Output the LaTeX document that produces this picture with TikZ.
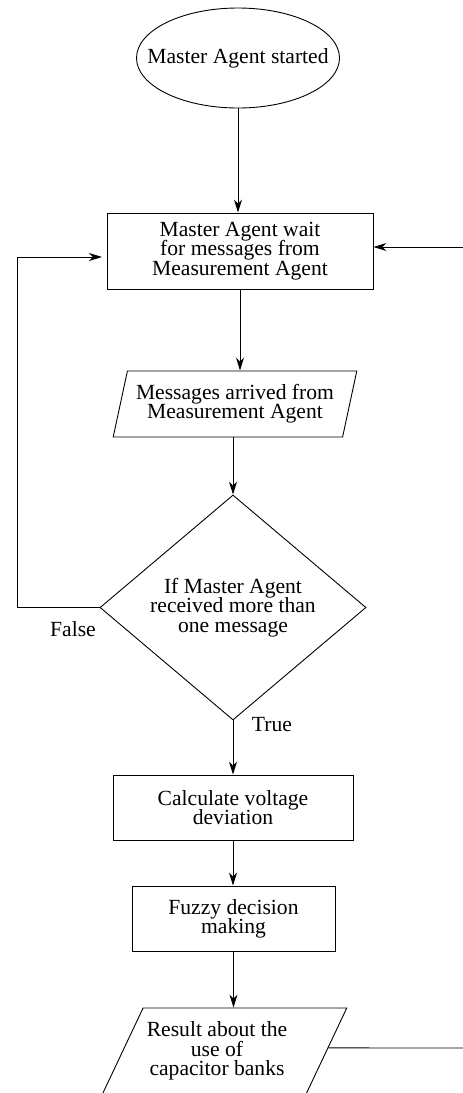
\documentclass[tikz,border=0pt]{standalone}
\usepackage{fontspec}
\setmainfont{Liberation Serif}
\usetikzlibrary{arrows.meta,shapes.geometric,calc}
% text face of the chart: tight, fixed line spacing
\newcommand\flowfont{\fontsize{21.6}{19.3}\selectfont\lineskiplimit=-100pt\relax}
\begin{document}
\begin{tikzpicture}[x=1pt,y=-1pt,
  line width=0.9pt,
  txt/.style={font=\flowfont, align=center, inner sep=0pt},
  box/.style={txt, draw, rectangle},
  io/.style={txt, draw, trapezium, trapezium left angle=71.57, trapezium right angle=108.43, trapezium stretches=true},
  arr/.style={-{Stealth[length=13pt,width=8pt,inset=4pt]}},
]
\useasboundingbox (0,0) rectangle (463,1093);
\clip (0,0) rectangle (463,1093);

% process steps
\node[txt, draw, ellipse, minimum width=203pt, minimum height=100pt] (start) at (238,58) {\makebox[0pt]{Master Agent started}};
\node[box, minimum width=266pt, minimum height=76pt] (wait) at (240,251) {Master Agent wait\\for messages from\\Measurement Agent};
\node[io, minimum width=244pt, minimum height=66pt] (arrived) at (235,404) {Messages arrived from\\Measurement Agent};
\node[txt, draw, diamond, minimum width=266pt, minimum height=225pt] (check) at (233,607.5) {If Master Agent\\received more than\\one message};
\node[box, minimum width=240pt, minimum height=65pt] (calc) at (233,807.5) {Calculate voltage\\deviation};
\node[box, minimum width=203pt, minimum height=65pt] (fuzzy) at (233.5,918.5) {Fuzzy decision\\making};
\node[io, minimum width=251.3pt, minimum height=100pt] (result) at (221.3,1058) {\phantom{X}};
\node[txt] (resulttext) at (217,1051) {Result about the\\use of\\capacitor banks};

% branch labels
\node[txt] (false) at (73,629) {False};
\node[txt] (true) at (272,725) {True};

% free ends of the connectors
\coordinate (feedin) at (463,247);
\coordinate (loopx) at (17,0);
\coordinate (loopend) at (102,257);
\coordinate (feedout) at (463,1048);

% connectors
\draw[arr] (start.south) -- (start.south |- wait.north);
\draw[arr] (wait.south) -- (wait.south |- arrived.north);
\draw[arr] (check.north |- arrived.south) -- (check.north);
\draw[arr] (check.south) -- (calc.north);
\draw[arr] (calc.south) -- (calc.south |- fuzzy.north);
\draw[arr] (fuzzy.south) -- (fuzzy.south |- result.north);
\draw[arr] (feedin) -- (feedin -| wait.east);
\draw[arr] (check.west) -- (check.west -| loopx) |- (loopend);
\draw (feedout) -- ($(result.top right corner)!0.4!(result.bottom right corner)$);
\end{tikzpicture}
\end{document}
